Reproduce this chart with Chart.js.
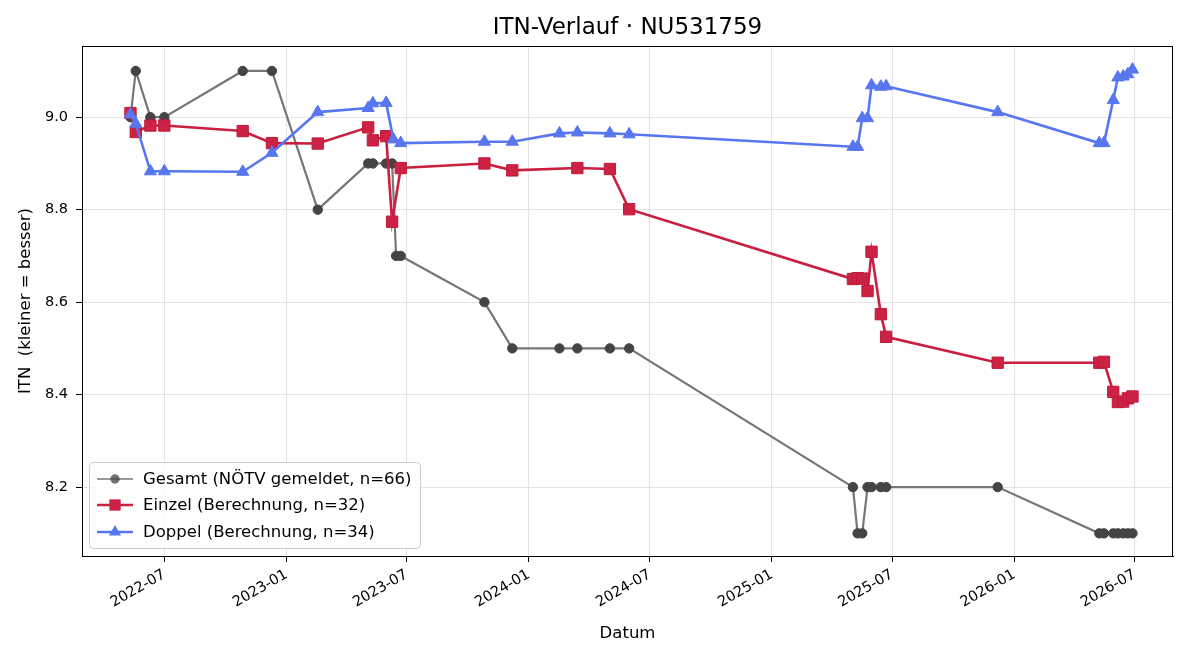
<!DOCTYPE html>
<html>
<head>
<meta charset="utf-8">
<script src="https://cdn.jsdelivr.net/npm/chart.js@4"></script>
<style>
  html, body { margin: 0; padding: 0; background: #fff; }
  #wrap { width: 1200px; height: 660px; }
</style>
</head>
<body>
<div id="wrap"><canvas id="itnChart" width="1200" height="660"></canvas></div>
<script>
// Gesamt (NÖTV gemeldet)
const gesamtDates = [
  "2022-05-11", "2022-05-19", "2022-06-10", "2022-07-01", "2022-10-27", "2022-12-10",
  "2023-02-17", "2023-05-04", "2023-05-11", "2023-05-31", "2023-06-09", "2023-06-15",
  "2023-06-22", "2023-10-26", "2023-12-07", "2024-02-16", "2024-03-14", "2024-05-02",
  "2024-05-31", "2025-05-03", "2025-05-10", "2025-05-17", "2025-05-25", "2025-05-31",
  "2025-06-14", "2025-06-22", "2025-12-07", "2026-05-09", "2026-05-16", "2026-05-30",
  "2026-06-06", "2026-06-14", "2026-06-21", "2026-06-28"
];
const gesamtValues = [
  9.0, 9.1, 9.0, 9.0, 9.1, 9.1,
  8.8, 8.9, 8.9, 8.9, 8.9, 8.7,
  8.7, 8.6, 8.5, 8.5, 8.5, 8.5,
  8.5, 8.2, 8.1, 8.1, 8.2, 8.2,
  8.2, 8.2, 8.2, 8.1, 8.1, 8.1,
  8.1, 8.1, 8.1, 8.1
];

// Einzel (Berechnung)
const einzelDates = [
  "2022-05-11", "2022-05-19", "2022-06-10", "2022-07-01", "2022-10-27", "2022-12-10",
  "2023-02-17", "2023-05-04", "2023-05-11", "2023-05-31", "2023-06-09", "2023-06-22",
  "2023-10-26", "2023-12-07", "2024-03-14", "2024-05-02", "2024-05-31", "2025-05-03",
  "2025-05-10", "2025-05-17", "2025-05-25", "2025-05-31", "2025-06-14", "2025-06-22",
  "2025-12-07", "2026-05-09", "2026-05-16", "2026-05-30", "2026-06-06", "2026-06-14",
  "2026-06-21", "2026-06-28"
];
const einzelValues = [
  9.009, 8.968, 8.982, 8.982, 8.970, 8.944,
  8.943, 8.978, 8.950, 8.959, 8.774, 8.890,
  8.900, 8.885, 8.890, 8.888, 8.801, 8.650,
  8.652, 8.651, 8.624, 8.709, 8.574, 8.525,
  8.469, 8.469, 8.471, 8.406, 8.384, 8.385,
  8.392, 8.396
];

// Doppel (Berechnung)
const doppelDates = [
  "2022-05-11", "2022-05-19", "2022-06-10", "2022-07-01", "2022-10-27", "2022-12-10",
  "2023-02-17", "2023-05-04", "2023-05-11", "2023-05-31", "2023-06-11", "2023-06-22",
  "2023-10-26", "2023-12-07", "2024-02-16", "2024-03-14", "2024-05-02", "2024-05-31",
  "2025-05-03", "2025-05-10", "2025-05-17", "2025-05-25", "2025-05-31", "2025-06-14",
  "2025-06-22", "2025-12-07", "2026-05-09", "2026-05-16", "2026-05-30", "2026-06-06",
  "2026-06-14", "2026-06-21", "2026-06-28"
];
const doppelValues = [
  9.006, 8.986, 8.883, 8.883, 8.882, 8.923,
  9.011, 9.020, 9.030, 9.031, 8.952, 8.944,
  8.947, 8.947, 8.965, 8.967, 8.965, 8.963,
  8.936, 8.936, 8.998, 8.998, 9.069, 9.066,
  9.067, 9.011, 8.944, 8.944, 9.037, 9.086,
  9.088, 9.093, 9.103
];

const xTickDates = ["2022-07-01", "2023-01-01", "2023-07-01", "2024-01-01", "2024-07-01",
                    "2025-01-01", "2025-07-01", "2026-01-01", "2026-07-01"];
const xTickLabels = ["2022-07", "2023-01", "2023-07", "2024-01", "2024-07",
                     "2025-01", "2025-07", "2026-01", "2026-07"];
const yTicks = [8.2, 8.4, 8.6, 8.8, 9.0];

const xRange = ["2022-02-27", "2026-08-28"];
const yRange = [8.051, 9.154];

const chartTitle = "ITN-Verlauf · NU531759";
const FONT = "'DejaVu Sans', sans-serif";

// days since epoch, so a plain linear axis can stand in for a time axis
const toDay = (s) => Date.parse(s + "T00:00:00Z") / 86400000;
const toPoints = (dates, vals) => dates.map((d, i) => ({ x: toDay(d), y: vals[i] }));

const xTickValues = xTickDates.map(toDay);

const series = [
  {
    label: "Gesamt (NÖTV gemeldet, n=66)",
    data: toPoints(gesamtDates, gesamtValues),
    borderColor: "#777777",
    backgroundColor: "#444444",
    pointBorderColor: "#444444",
    borderWidth: 2.2,
    pointStyle: "circle",
    pointRadius: 4.7,
    order: 3,
  },
  {
    label: "Einzel (Berechnung, n=32)",
    data: toPoints(einzelDates, einzelValues),
    borderColor: "#c91f40",
    backgroundColor: "#cc2244",
    pointBorderColor: "#c01a3a",
    borderWidth: 2.6,
    pointStyle: "rect",
    pointRadius: 8,
    order: 2,
  },
  {
    label: "Doppel (Berechnung, n=34)",
    data: toPoints(doppelDates, doppelValues),
    borderColor: "#5776ef",
    backgroundColor: "#5776ef",
    pointBorderColor: "#5776ef",
    borderWidth: 2.6,
    pointStyle: "triangle",
    pointRadius: 7,
    order: 1,
  },
];

function drawMarker(ctx, style, x, y, r) {
  ctx.beginPath();
  if (style === "circle") {
    ctx.arc(x, y, r, 0, Math.PI * 2);
  } else if (style === "rect") {
    const s = r * Math.SQRT1_2;
    ctx.rect(x - s, y - s, 2 * s, 2 * s);
  } else {
    ctx.moveTo(x, y - r);
    ctx.lineTo(x + r * Math.sin(2 * Math.PI / 3), y - r * Math.cos(2 * Math.PI / 3));
    ctx.lineTo(x + r * Math.sin(4 * Math.PI / 3), y - r * Math.cos(4 * Math.PI / 3));
    ctx.closePath();
  }
  ctx.fill();
}

// title centred over the plot, black frame on all four sides, legend lower left
const framePlugin = {
  id: "frameAndLegend",
  afterDraw(chart) {
    const ctx = chart.ctx;
    const a = chart.chartArea;
    ctx.save();

    ctx.fillStyle = "#000";
    ctx.font = "23px " + FONT;
    ctx.textAlign = "center";
    ctx.textBaseline = "middle";
    ctx.fillText(chartTitle, (a.left + a.right) / 2, a.top - 18);

    ctx.strokeStyle = "#000";
    ctx.lineWidth = 1;
    ctx.strokeRect(a.left + 0.5, a.top + 0.5, a.right - a.left - 1, a.bottom - a.top);

    const bx = a.left + 7, by = a.bottom - 94, bw = 331, bh = 86;
    ctx.beginPath();
    ctx.roundRect(bx + 0.5, by + 0.5, bw, bh, 4);
    ctx.fillStyle = "rgba(255,255,255,0.85)";
    ctx.fill();
    ctx.strokeStyle = "#cccccc";
    ctx.stroke();

    const rows = [17, 43, 70];
    series.forEach((s, i) => {
      const y = by + rows[i];
      ctx.globalAlpha = i === 0 ? 0.75 : 1;
      ctx.strokeStyle = s.borderColor;
      ctx.lineWidth = s.borderWidth;
      ctx.beginPath();
      ctx.moveTo(bx + 8, y);
      ctx.lineTo(bx + 44, y);
      ctx.stroke();
      ctx.fillStyle = s.backgroundColor;
      drawMarker(ctx, s.pointStyle, bx + 26, y, s.pointRadius);
      ctx.globalAlpha = 1;
      ctx.fillStyle = "#000";
      ctx.font = "16.5px " + FONT;
      ctx.textBaseline = "middle";
      ctx.textAlign = "left";
      ctx.fillText(s.label, bx + 54, y + 1);
    });
    ctx.restore();
  },
};

const ctx = document.getElementById("itnChart").getContext("2d");
new Chart(ctx, {
  type: "line",
  data: {
    datasets: series.map((s) => ({
      label: s.label,
      data: s.data,
      borderColor: s.borderColor,
      backgroundColor: s.backgroundColor,
      pointBackgroundColor: s.backgroundColor,
      pointBorderColor: s.pointBorderColor,
      pointBorderWidth: 1,
      borderWidth: s.borderWidth,
      pointStyle: s.pointStyle,
      pointRadius: s.pointRadius,
      pointHoverRadius: s.pointRadius,
      tension: 0,
      fill: false,
      order: s.order,
      clip: false,
    })),
  },
  options: {
    responsive: false,
    animation: false,
    layout: { padding: { left: 0, right: 27, top: 46, bottom: 0 } },
    plugins: {
      legend: { display: false },
      tooltip: { enabled: false },
      title: { display: false },
    },
    scales: {
      x: {
        type: "linear",
        min: toDay(xRange[0]),
        max: toDay(xRange[1]),
        afterBuildTicks: (scale) => {
          scale.ticks = xTickValues.map((v) => ({ value: v }));
        },
        afterFit: (scale) => { scale.height = 104; },
        grid: { color: "#e3e3e3", tickColor: "#000", tickLength: 6, lineWidth: 1 },
        border: { color: "#000" },
        ticks: {
          autoSkip: false,
          minRotation: 30,
          maxRotation: 30,
          color: "#000",
          padding: 4,
          font: { family: FONT, size: 14.5 },
          callback: (v) => {
            const i = xTickValues.indexOf(v);
            return i >= 0 ? xTickLabels[i] : "";
          },
        },
        title: {
          display: true,
          text: "Datum",
          color: "#000",
          font: { family: FONT, size: 16.5 },
          padding: { top: 4, bottom: 16 },
        },
      },
      y: {
        type: "linear",
        min: yRange[0],
        max: yRange[1],
        afterBuildTicks: (scale) => {
          scale.ticks = yTicks.map((v) => ({ value: v }));
        },
        afterFit: (scale) => { scale.width = 82; },
        grid: { color: "#e3e3e3", tickColor: "#000", tickLength: 6, lineWidth: 1 },
        border: { color: "#000" },
        ticks: {
          color: "#000",
          padding: 8,
          font: { family: FONT, size: 14.5 },
          callback: (v) => v.toFixed(1),
        },
        title: {
          display: true,
          text: "ITN  (kleiner = besser)",
          color: "#000",
          font: { family: FONT, size: 16.5 },
          padding: { top: 16, bottom: 4 },
        },
      },
    },
  },
  plugins: [framePlugin],
});
</script>
</body>
</html>
